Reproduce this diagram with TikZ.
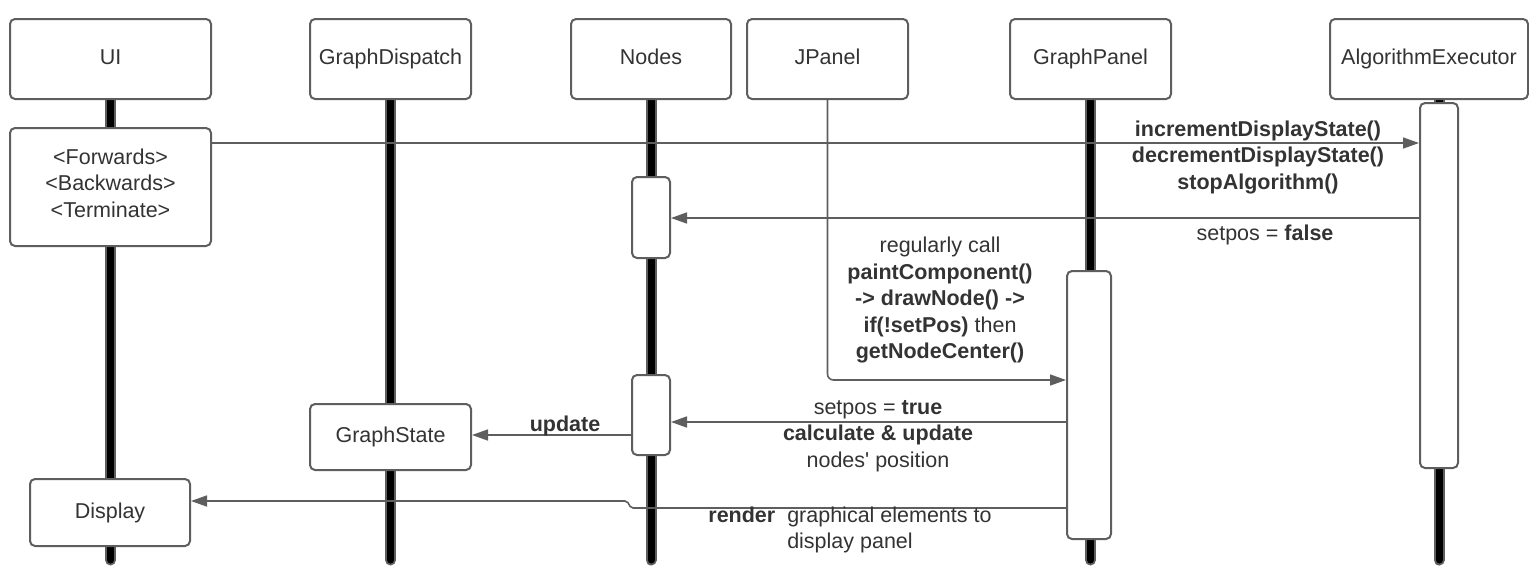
\documentclass[tikz,border=0pt]{standalone}
\usepackage{fontspec}
\setmainfont{Liberation Sans}
\usetikzlibrary{arrows.meta,backgrounds}
\definecolor{lg}{RGB}{94,94,94}
\definecolor{tc}{RGB}{51,51,51}
\newcommand{\fsz}{\fontsize{21.5}{26.5}\selectfont}
\begin{document}
\begin{tikzpicture}[x=1pt,y=-1pt,
 box/.style={draw=lg, line width=2pt, rounded corners=5pt, fill=white, text=tc, font=\fsz, inner sep=0pt, align=center},
 act/.style={draw=lg, line width=2pt, rounded corners=5pt, fill=white, inner sep=0pt},
 msg/.style={draw=lg, line width=1.6pt, -{Triangle[length=16pt,width=11pt]}},
 lbl/.style={text=tc, font=\fsz, align=center, inner sep=0pt},
 lifeo/.style={draw=lg, line width=11pt, line cap=round},
 lifei/.style={draw=black, line width=7pt, line cap=round},
]
\useasboundingbox (0,0) rectangle (1529,579);

% top boxes
\node[box, minimum width=201pt, minimum height=80pt, text height=15pt, text depth=4pt] (ui) at (110.5,59) {UI};
\node[box, minimum width=161pt, minimum height=80pt, text height=15pt, text depth=4pt] (gd) at (390.5,59) {GraphDispatch};
\node[box, minimum width=160pt, minimum height=80pt, text height=15pt, text depth=4pt] (nd) at (651,59) {Nodes};
\node[box, minimum width=161pt, minimum height=80pt, text height=15pt, text depth=4pt] (jp) at (827.5,59) {JPanel};
\node[box, minimum width=161pt, minimum height=80pt, text height=15pt, text depth=4pt] (gp) at (1090.5,59) {GraphPanel};
\node[box, minimum width=198pt, minimum height=80pt, text height=15pt, text depth=4pt] (ae) at (1429,59) {AlgorithmExecutor};

% activations and other boxes
\node[box, minimum width=201pt, minimum height=118pt,
  label={[lbl, yshift=4pt]center:{<Forwards>\\<Backwards>\\<Terminate>}}] (fwd) at (110.5,187) {};
\node[act, minimum width=38pt, minimum height=81pt] (ndact1) at (651,217.5) {};
\node[act, minimum width=38pt, minimum height=365pt] (aeact) at (1439,285.5) {};
\node[act, minimum width=44pt, minimum height=268pt] (gpact) at (1089,405) {};
\node[act, minimum width=38pt, minimum height=80pt] (ndact2) at (651,415) {};
\node[box, minimum width=161pt, minimum height=66pt] (gs) at (390.5,437) {GraphState};
\node[box, minimum width=160pt, minimum height=67pt] (disp) at (110,512.5) {Display};

\coordinate (bot) at (0,560);

% lifelines
\begin{scope}[on background layer]
\foreach \n in {ui,gd,nd,gp}{
  \draw[lifeo] (\n.south) -- (\n.south |- bot);
  \draw[lifei] (\n.south) -- (\n.south |- bot);
}
\draw[lifeo] (aeact.north |- ae.south) -- (aeact.south |- bot);
\draw[lifei] (aeact.north |- ae.south) -- (aeact.south |- bot);
\end{scope}

% messages
\coordinate (m1) at (0,143);
\draw[msg] (fwd.east |- m1) -- (aeact.west |- m1);
\node[lbl] (l1) at (1258,157) {\textbf{incrementDisplayState()}\\\textbf{decrementDisplayState()}\\\textbf{stopAlgorithm()}};

\coordinate (m2) at (0,218);
\draw[msg] (aeact.west |- m2) -- (ndact1.east |- m2);
\node[lbl] (l2) at (1265,235) {setpos = \textbf{false}};

\coordinate (m3) at (0,380);
\draw[msg, rounded corners=6pt] (jp.south) |- (gpact.west |- m3);
\node[lbl] (l3) at (940,300) {regularly call\\\textbf{paintComponent()}\\\textbf{-> drawNode() ->}\\\textbf{if(!setPos)} then\\\textbf{getNodeCenter()}};

\coordinate (m4) at (0,422);
\draw[msg] (gpact.west |- m4) -- (ndact2.east |- m4);
\node[lbl] (l4) at (878,436) {setpos = \textbf{true}\\\textbf{calculate \& update}\\nodes{\addfontfeatures{Ligatures=TeXOff}'} position};

\coordinate (m5) at (0,435);
\draw[msg] (ndact2.west |- m5) -- (gs.east |- m5);
\node[lbl] (l5) at (565,426) {\textbf{update}};

\coordinate (m6) at (0,508);
\coordinate (m7) at (0,501);
\coordinate (j1) at (631,508);
\coordinate (j2) at (627,501);
\draw[msg, rounded corners=2pt] (gpact.west |- m6) -- (j1) -- (j2) -- (disp.east |- m7);
\node[lbl] (l6) at (850,530) {\textbf{render}\ \ graphical elements to\\display panel};
\end{tikzpicture}
\end{document}
